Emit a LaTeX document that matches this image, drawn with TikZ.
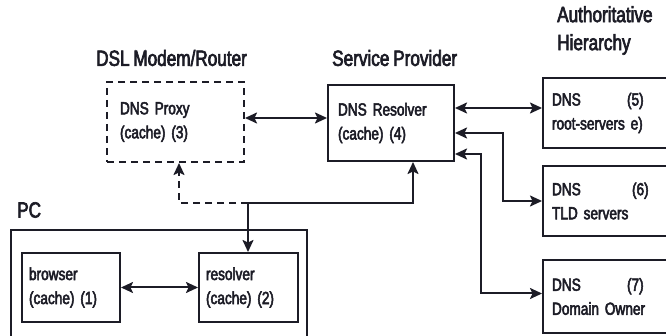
\documentclass[tikz,border=0pt]{standalone}
\usepackage{fontspec}
\setmainfont[FakeStretch=0.78,RawFeature={embolden=3},WordSpace=0.8]{Liberation Sans}
\usetikzlibrary{arrows.meta,calc}
\definecolor{ink}{RGB}{28,28,38}
\begin{document}
\begin{tikzpicture}[x=1pt,y=-1pt,
  ink/.style={draw=ink,line width=2pt},
  boxtext/.style={font=\fontsize{17.5}{24}\selectfont,text=ink},
  titletext/.style={font=\fontsize{22}{28}\selectfont,text=ink,inner sep=0pt},
  dnsbox/.style={ink,boxtext,rectangle,align=left,inner ysep=0pt},
  conn/.style={ink,line width=2pt,-{Stealth[length=12pt,width=11pt,inset=2.5pt]}},
  bconn/.style={ink,line width=2pt,{Stealth[length=12pt,width=11pt,inset=2.5pt]}-{Stealth[length=12pt,width=11pt,inset=2.5pt]}},
  dashline/.style={dash pattern=on 7pt off 5pt}]
\useasboundingbox (0,0) rectangle (666,336);
\clip (0,0) rectangle (666,336);
% titles
\node[titletext,anchor=west] (tpc) at (17,210) {PC};
\node[titletext,anchor=west] (tdsl) at (96,58) {DSL Modem/Router};
\node[titletext,anchor=west] (tsp) at (332,58) {Service Provider};
\node[titletext,anchor=north west,align=left] (tah) at (557,6) {Authoritative\\Hierarchy};
% PC container
\node[ink,rectangle,minimum width=296pt,minimum height=130pt,inner sep=0pt] (pc) at (159,295) {};
% boxes
\node[dnsbox,minimum width=98pt,minimum height=69pt,text width=84pt,inner xsep=7pt] (browser) at (71,287.5) {browser\\(cache) (1)};
\node[dnsbox,minimum width=99pt,minimum height=69pt,text width=85pt,inner xsep=7pt] (res2) at (248.5,287.5) {resolver\\(cache) (2)};
\node[dnsbox,dashline,minimum width=137pt,minimum height=80pt,text width=111pt,inner xsep=13pt] (proxy) at (175.5,122) {DNS Proxy\\(cache) (3)};
\node[dnsbox,minimum width=126pt,minimum height=76pt,text width=106pt,inner xsep=10pt] (res4) at (391,123) {DNS Resolver\\(cache) (4)};
\node[dnsbox,minimum width=180pt,minimum height=70pt,text width=162pt,inner xsep=9pt] (root) at (633,113) {\makebox[75pt][l]{DNS}(5)\\root-servers e)};
\node[dnsbox,minimum width=180pt,minimum height=70pt,text width=162pt,inner xsep=9pt] (tld) at (633,201) {\makebox[80pt][l]{DNS}(6)\\TLD servers};
\node[dnsbox,minimum width=180pt,minimum height=73pt,text width=162pt,inner xsep=9pt] (owner) at (633,296.5) {\makebox[75pt][l]{DNS}(7)\\Domain Owner};
% junction
\coordinate (J) at (248,203);
% connectors
\draw[bconn] (browser.east) -- (res2.west);
\draw[bconn] ([yshift=4pt]proxy.east) -- ([yshift=4pt]proxy.east -| res4.west);
\draw[conn,dashline] (J) -| ([xshift=3.5pt]proxy.south);
\draw[conn] (J) -| ([xshift=22pt]res4.south);
\draw[conn] (J) -- (J |- res2.north);
\draw[bconn] ([yshift=15pt]res4.east) -- ([yshift=15pt]res4.east -| root.west);
\coordinate (t6) at (503,0);
\coordinate (t7) at (481,0);
\draw[bconn] ([yshift=-10pt]res4.east) -- ([yshift=-10pt]res4.east -| t6) |- (tld.west);
\draw[bconn] ([yshift=-31pt]res4.east) -- ([yshift=-31pt]res4.east -| t7) |- ([yshift=3pt]owner.west);
\end{tikzpicture}
\end{document}
